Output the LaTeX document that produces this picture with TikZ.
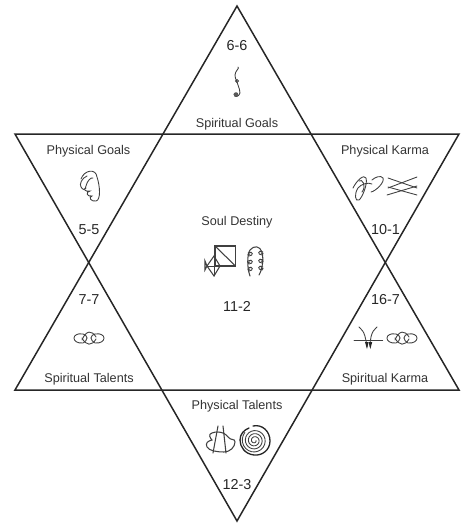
\documentclass[tikz,border=0pt]{standalone}
\usepackage{fontspec}
\setmainfont{Liberation Sans}
\tikzset{
  chainglyph/.pic={
    \draw[glyph] (-6,-4) .. controls (-18,-6) and (-18,6) .. (-6,5) .. controls (-3,4) and (-3,2) .. (-2,0);
    \draw[glyph] (-6,-4) .. controls (-3,-4) and (-3,-2) .. (-2,0);
    \draw[glyph] (-7,2) .. controls (-3,-8) and (3,-8) .. (7,-1);
    \draw[glyph] (-7,0) .. controls (-3,8) and (3,8) .. (7,1);
    \draw[glyph] (6,-4) .. controls (18,-6) and (18,6) .. (6,5) .. controls (3,4) and (3,2) .. (2,0);
    \draw[glyph] (6,-4) .. controls (3,-4) and (3,-2) .. (2,0);
  }
}
\begin{document}
\begin{tikzpicture}[
  x=0.02cm,y=-0.02cm,
  font=\fontsize{7.2}{9}\selectfont,
  side/.style={line width=0.85pt,black!85,line join=miter},
  title/.style={text=black!80,inner sep=0pt},
  number/.style={text=black!85,inner sep=0pt,font=\fontsize{8.2}{10}\selectfont},
  glyph/.style={line width=0.5pt,black!75,line cap=round}
]
  \useasboundingbox (0,0) rectangle (474,529);

  % the two triangles
  \coordinate (uptop) at (237,6);
  \coordinate (upleft) at (15,390);
  \coordinate (upright) at (459,390);
  \coordinate (downbot) at (237,521);
  \coordinate (downleft) at (15,134);
  \coordinate (downright) at (459,134);
  \draw[side] (uptop)--(upright)--(upleft)--cycle;
  \draw[side] (downbot)--(downright)--(downleft)--cycle;

  \node[number] (n66) at (237,46) {6-6};
  \node[title] (spgoals) at (237,124.5) {Spiritual Goals};
  \node[title] (phgoals) at (88.5,151.5) {Physical Goals};
  \node[number] (n55) at (89,230) {5-5};
  \node[title] (phkarma) at (385,151.5) {Physical Karma};
  \node[number] (n101) at (385.5,230) {10-1};
  \node[title] (destiny) at (237,222.5) {Soul Destiny};
  \node[number] (n112) at (237,306.5) {11-2};
  \node[number] (n77) at (89,300) {7-7};
  \node[title] (sptalents) at (89,379.5) {Spiritual Talents};
  \node[number] (n167) at (385.5,300) {16-7};
  \node[title] (spkarma) at (385,379.5) {Spiritual Karma};
  \node[title] (phtalents) at (237,406.5) {Physical Talents};
  \node[number] (n123) at (237,485) {12-3};

  % top squiggle
  \draw[glyph] (238,67) .. controls (240,68) and (235,71) .. (235,75)
    .. controls (235,80) and (238,82) .. (238,85) .. controls (238,88) and (241,90) .. (240,93)
    .. controls (239,97) and (234,98) .. (234,94);
  \draw[glyph] (237,81) circle (1.5);
  \fill[black!65] (236,94.5) circle (2.3);

  % physical goals
  \draw[glyph] (87,176) .. controls (82,178) and (79,184) .. (81,187)
    .. controls (83,190) and (85,191) .. (86,186) .. controls (87,181) and (91,177) .. (93,178);
  \draw[glyph] (81,179) .. controls (84,170) and (96,168) .. (97,177)
    .. controls (100,186) and (101,200) .. (96,201) .. controls (91,202) and (88,197) .. (92,196)
    .. controls (87,197) and (85,192) .. (90,191) .. controls (85,192) and (83,189) .. (86,188);

  % physical karma
  \draw[glyph] (353,188) .. controls (357,180) and (364,174) .. (366,178)
    .. controls (368,184) and (362,198) .. (359,200) .. controls (355,202) and (354,194) .. (358,188)
    .. controls (361,184) and (368,182) .. (372,184);
  \draw[glyph] (359,181) .. controls (362,178) and (367,186) .. (362,192);
  \draw[glyph] (371,192) .. controls (376,191) and (385,182) .. (383,178) .. controls (381,175) and (375,177) .. (372,180);
  \draw[glyph] (388,178)--(417,188);
  \draw[glyph] (417,177)--(388,188);
  \draw[glyph] (388,187)--(417,195);
  \draw[glyph] (417,186)--(387,195);

  % soul destiny
  \draw[glyph,line width=0.6pt] (215,246) rectangle (235.5,266);
  \draw[glyph,line width=0.6pt] (215,246)--(235.5,266);
  \draw[glyph,line width=0.6pt] (214,256)--(220,266)--(214,276)--(207,266)--cycle;
  \draw[glyph] (207,266)--(220,266) (214,256)--(214,276);
  \draw[glyph,line width=0.6pt] (207,266)--(205,261)--(205,270)--cycle;
  \draw[glyph,line width=0.6pt] (250,276) .. controls (247,268) and (247,254) .. (250,250)
    .. controls (254,245) and (260,246) .. (262,252) .. controls (264,260) and (262,270) .. (259,275);
  \foreach \cy in {253,261,268}{
    \draw[glyph] (248,\cy) .. controls (253,\cy-3) and (254,\cy+3) .. (249,\cy+3) .. controls (247,\cy+3) and (248,\cy) .. (250,\cy+1);
    \draw[glyph] (263,\cy-1) .. controls (258,\cy-4) and (257,\cy+2) .. (262,\cy+2) .. controls (264,\cy+2) and (263,\cy-1) .. (261,\cy);
  }

  % spiritual talents
  \pic at (89,338) {chainglyph};

  % spiritual karma
  \draw[glyph] (354,340.3)--(382.7,340.3);
  \draw[glyph] (359,327) .. controls (365,331) and (366,340) .. (367,347);
  \draw[glyph] (377,327) .. controls (371,331) and (370,340) .. (370,347);
  \fill[black!85] (365,342)--(368.6,342)--(367,349)--cycle;
  \fill[black!85] (368.6,342)--(372.2,342)--(370.4,349)--cycle;
  \pic at (402,338) {chainglyph};

  % physical talents
  \draw[glyph,line width=0.6pt] (218,426)--(213,453);
  \draw[glyph,line width=0.6pt] (223,426)--(226,453);
  \draw[glyph,line width=0.6pt] (212,433) .. controls (208,434) and (210,438) .. (212,440)
    .. controls (208,441) and (205,443) .. (207,447) .. controls (209,451) and (218,452) .. (224,452)
    .. controls (230,452) and (235,447) .. (235,442) .. controls (235,438) and (231,441) .. (228,437)
    .. controls (226,434) and (222,432) .. (218,432) .. controls (216,432) and (214,432) .. (212,433);
  \draw[line width=0.75pt,black!85,line cap=round] (253,426) .. controls (262,424) and (270,431) .. (270,441)
    .. controls (270,450) and (262,456) .. (254,455) .. controls (245,454) and (240,447) .. (240,440)
    .. controls (240,434) and (244,430) .. (249,428);
  \draw[glyph,domain=0:1300,samples=80,smooth,variable=\t]
    plot ({254.5+(1.5+0.0085*\t)*cos(\t)},{440.5+(1.5+0.0085*\t)*sin(\t)});
\end{tikzpicture}
\end{document}
